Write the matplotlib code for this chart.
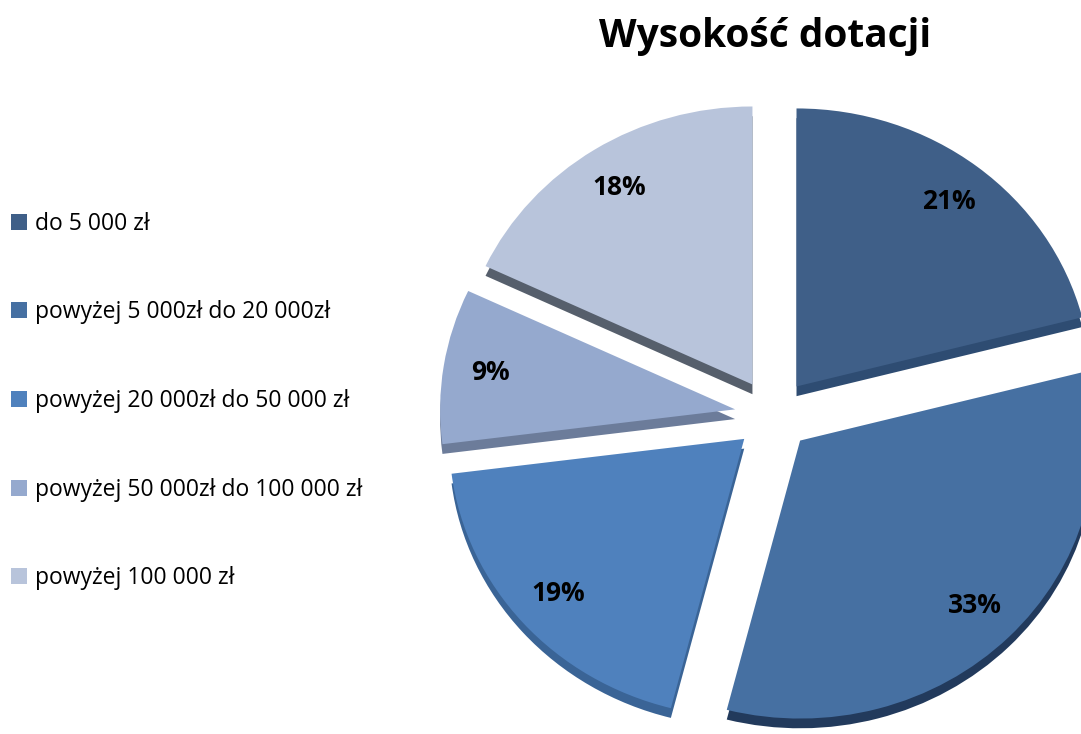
import matplotlib.pyplot as plt

# Data
categories = ['do 5 000 zł', 'powyżej 5 000zł do 20 000zł', 'powyżej 20 000zł do 50 000 zł',
              'powyżej 50 000zł do 100 000 zł', 'powyżej 100 000 zł']
shares = [21, 33, 19, 9, 18]

top_colors = ['#3F5F88', '#4670A2', '#4F81BD', '#95A9CE', '#B8C4DB']
side_colors = ['#2E4C72', '#223A5C', '#3A6496', '#6C7C9A', '#565F6C']

plt.rcParams['font.family'] = ['Open Sans', 'DejaVu Sans']

fig = plt.figure(figsize=(10.81, 7.34), dpi=100)
ax = fig.add_axes([0, 0, 1, 1])

explode = [0.13] * len(shares)

# side (depth) of the 3D pie
ax.pie(shares, colors=side_colors, startangle=90, counterclock=False,
       explode=explode, center=(0, -0.035), wedgeprops=dict(linewidth=0))

# top face
wedges, _, autotexts = ax.pie(shares, colors=top_colors, startangle=90, counterclock=False,
                              explode=explode, autopct='%.0f%%', pctdistance=0.84,
                              wedgeprops=dict(linewidth=0),
                              textprops=dict(fontsize=19, fontweight='bold', color='black'))

# 295 px per unit in x, 278 px per unit in y, pie centre at (773, 415) px
ax.set_aspect('auto')
ax.set_xlim(-773 / 295, (1081 - 773) / 295)
ax.set_ylim(-319 / 278, 415 / 278)
ax.axis('off')

fig.text(0.708, 0.950, 'Wysokość dotacji', ha='center', va='center',
         fontsize=28, fontweight='bold')

fig.legend(wedges, categories, loc='upper left', bbox_to_anchor=(0.002, 0.724),
           frameon=False, fontsize=16.5, handlelength=0.7, handleheight=0.7,
           handletextpad=0.35, labelspacing=2.82, borderaxespad=0)

plt.savefig('out.png', dpi=100, facecolor='white')
